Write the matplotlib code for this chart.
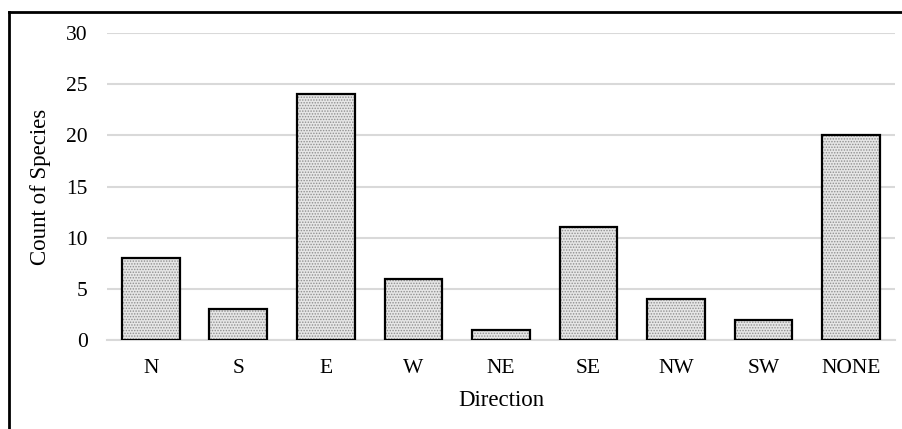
import matplotlib
matplotlib.use("Agg")
import matplotlib.pyplot as plt
from matplotlib.lines import Line2D

categories = ["N", "S", "E", "W", "NE", "SE", "NW", "SW", "NONE"]
counts = [8, 3, 24, 6, 1, 11, 4, 2, 20]
yticks = [0, 5, 10, 15, 20, 25, 30]

plt.rcParams['font.family'] = ['Liberation Serif', 'DejaVu Serif']
plt.rcParams['hatch.linewidth'] = 0.7

fig = plt.figure(figsize=(9.03, 4.29), dpi=100)
ax = fig.add_axes([0.1185, 0.2075, 0.8725, 0.7155])

x = range(len(categories))
ax.bar(x, counts, width=0.66, color='#e6e6e6', edgecolor='#8f8f8f', linewidth=0,
       hatch='......', zorder=2)
ax.bar(x, counts, width=0.66, fill=False, edgecolor='black', linewidth=1.6, zorder=3)

ax.set_xlim(-0.5, len(categories) - 0.5)
ax.set_ylim(0, 30)
ax.set_yticks(yticks)
ax.set_xticks(list(x))
ax.set_xticklabels(categories)
ax.yaxis.grid(True, color='#d9d9d9', linewidth=1.5, zorder=0)
ax.set_axisbelow(True)
for s in ax.spines.values():
    s.set_visible(False)
ax.axhline(0, color='#d9d9d9', linewidth=1.5, zorder=1, clip_on=False)
ax.tick_params(axis='both', length=0, labelsize=15.5, colors='black')
ax.tick_params(axis='y', pad=14)
ax.tick_params(axis='x', pad=14)
ax.set_ylabel("Count of Species", fontsize=16.5, labelpad=11)
ax.set_xlabel("Direction", fontsize=16.5, labelpad=8)

# outer frame (left and top edges visible)
fig.add_artist(Line2D([0.0105, 0.0105], [0.0, 0.972], transform=fig.transFigure,
                      color='black', linewidth=2))
fig.add_artist(Line2D([0.0105, 1.0], [0.972, 0.972], transform=fig.transFigure,
                      color='black', linewidth=2))

fig.savefig("out.png", dpi=100)
